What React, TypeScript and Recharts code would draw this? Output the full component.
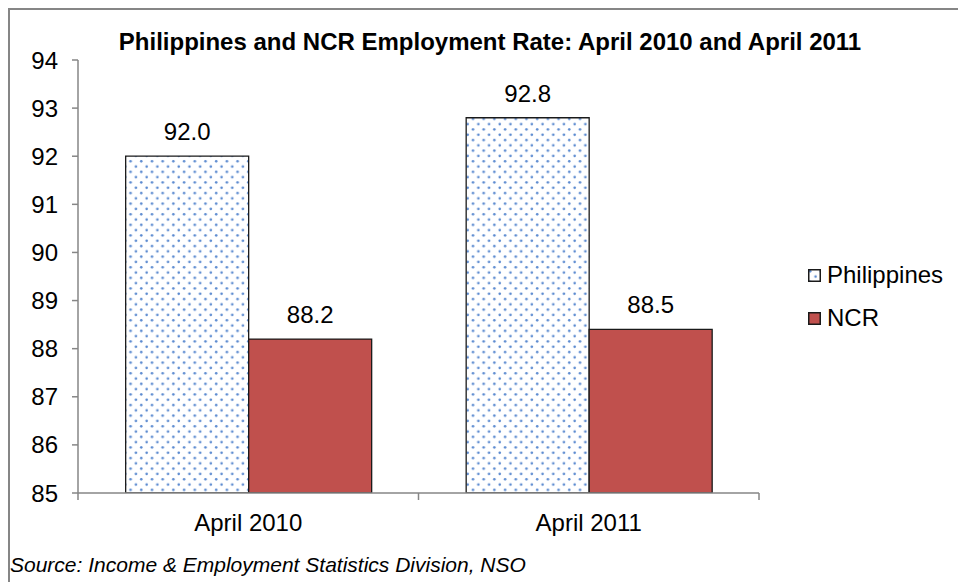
import React from 'react'
import { BarChart, Bar, XAxis, YAxis, LabelList } from 'recharts'

const FONT = "'Liberation Sans', Arial, Helvetica, sans-serif"
const AXIS = '#868686'
const NCR_RED = '#c0504d'
const DOT_BLUE = '#5b8ad0'

// data
const periods = ['April 2010', 'April 2011']
const philippines = [92.0, 92.8]
const ncr = [88.2, 88.4]
const philippinesLabels = ['92.0', '92.8']
const ncrLabels = ['88.2', '88.5']
const yTicks = [85, 86, 87, 88, 89, 90, 91, 92, 93, 94]

const data = periods.map((p, i) => ({
  period: p,
  Philippines: philippines[i],
  NCR: ncr[i],
  phLabel: philippinesLabels[i],
  ncrLabel: ncrLabels[i],
}))

// category label plus tick marks on the band boundaries (Excel style)
const PeriodTick = (props: any) => {
  const { x, y, payload, index, width } = props
  const half = payload?.offset ? payload.offset : width / 4
  return (
    <g>
      {index === 0 && <line x1={x - half} x2={x - half} y1={y} y2={y + 7} stroke={AXIS} strokeWidth={1.5} />}
      <line x1={x + half} x2={x + half} y1={y} y2={y + 7} stroke={AXIS} strokeWidth={1.5} />
      <text x={x} y={y} dy={38} textAnchor="middle" fill="#000" fontSize={24} fontFamily={FONT}>
        {payload.value}
      </text>
    </g>
  )
}

export default function App() {
  return (
    <div style={{ position: 'absolute', left: 0, top: 0, width: 958, height: 582, overflow: 'hidden', background: '#fff' }}>
      <svg width={0} height={0} style={{ position: 'absolute' }}>
        <defs>
          <pattern id="dots" width={10.7} height={10.6} patternUnits="userSpaceOnUse">
            <rect width={10.7} height={10.6} fill="#fff" />
            <circle cx={2.2} cy={2.2} r={1.3} fill={DOT_BLUE} />
            <circle cx={7.55} cy={7.5} r={1.3} fill={DOT_BLUE} />
          </pattern>
        </defs>
      </svg>

      {/* outer chart-area border (right/bottom edges fall outside the picture) */}
      <div style={{ position: 'absolute', left: 8, top: 8, width: 1000, height: 1000, borderLeft: `2px solid ${AXIS}`, borderTop: `2px solid ${AXIS}` }} />

      <div style={{ position: 'absolute', left: 0, top: 0 }}>
        <BarChart
          width={958}
          height={582}
          data={data}
          margin={{ top: 60, right: 199, left: 18, bottom: 49 }}
          barCategoryGap="14%"
          barGap={0}
        >
          <XAxis
            dataKey="period"
            tick={<PeriodTick />}
            tickLine={false}
            tickSize={0}
            tickMargin={0}
            axisLine={{ stroke: AXIS, strokeWidth: 1.5 }}
            height={40}
            interval={0}
          />
          <YAxis
            domain={[85, 94]}
            ticks={yTicks}
            width={60}
            allowDataOverflow
            tickSize={6}
            tickMargin={14}
            axisLine={{ stroke: AXIS, strokeWidth: 1.5 }}
            tickLine={{ stroke: AXIS, strokeWidth: 1.5 }}
            tick={{ fill: '#000', fontSize: 24, fontFamily: FONT }}
          />
          <Bar dataKey="Philippines" fill="url(#dots)" stroke="#1a1a1a" strokeWidth={1.3} isAnimationActive={false}>
            <LabelList dataKey="phLabel" position="top" offset={16} fill="#000" fontSize={24} fontFamily={FONT} />
          </Bar>
          <Bar dataKey="NCR" fill={NCR_RED} stroke="#1a1a1a" strokeWidth={1.3} isAnimationActive={false}>
            <LabelList dataKey="ncrLabel" position="top" offset={16} fill="#000" fontSize={24} fontFamily={FONT} />
          </Bar>
        </BarChart>
      </div>

      {/* title */}
      <div style={{ position: 'absolute', left: 0, width: 980, top: 28, textAlign: 'center', fontFamily: FONT, fontWeight: 'bold', fontSize: 24, color: '#000', whiteSpace: 'nowrap' }}>
        Philippines and NCR Employment Rate: April 2010 and April 2011
      </div>

      {/* legend */}
      <div style={{ position: 'absolute', left: 808, top: 261, fontFamily: FONT, fontSize: 24, color: '#000' }}>
        {[{ name: 'Philippines', fill: 'url(#dots)' }, { name: 'NCR', fill: NCR_RED }].map((s, i) => (
          <div key={s.name} style={{ display: 'flex', alignItems: 'center', height: 28, marginBottom: i === 0 ? 15 : 0 }}>
            <svg width={13} height={13} style={{ marginRight: 6 }}>
              <rect x={0.75} y={0.75} width={11.5} height={11.5} fill={s.fill} stroke="#1a1a1a" strokeWidth={1.5} />
            </svg>
            <span>{s.name}</span>
          </div>
        ))}
      </div>

      {/* source note */}
      <div style={{ position: 'absolute', left: 10, top: 553, fontFamily: FONT, fontStyle: 'italic', fontSize: 21, color: '#000', whiteSpace: 'nowrap' }}>
        Source: Income &amp; Employment Statistics Division, NSO
      </div>
    </div>
  )
}
